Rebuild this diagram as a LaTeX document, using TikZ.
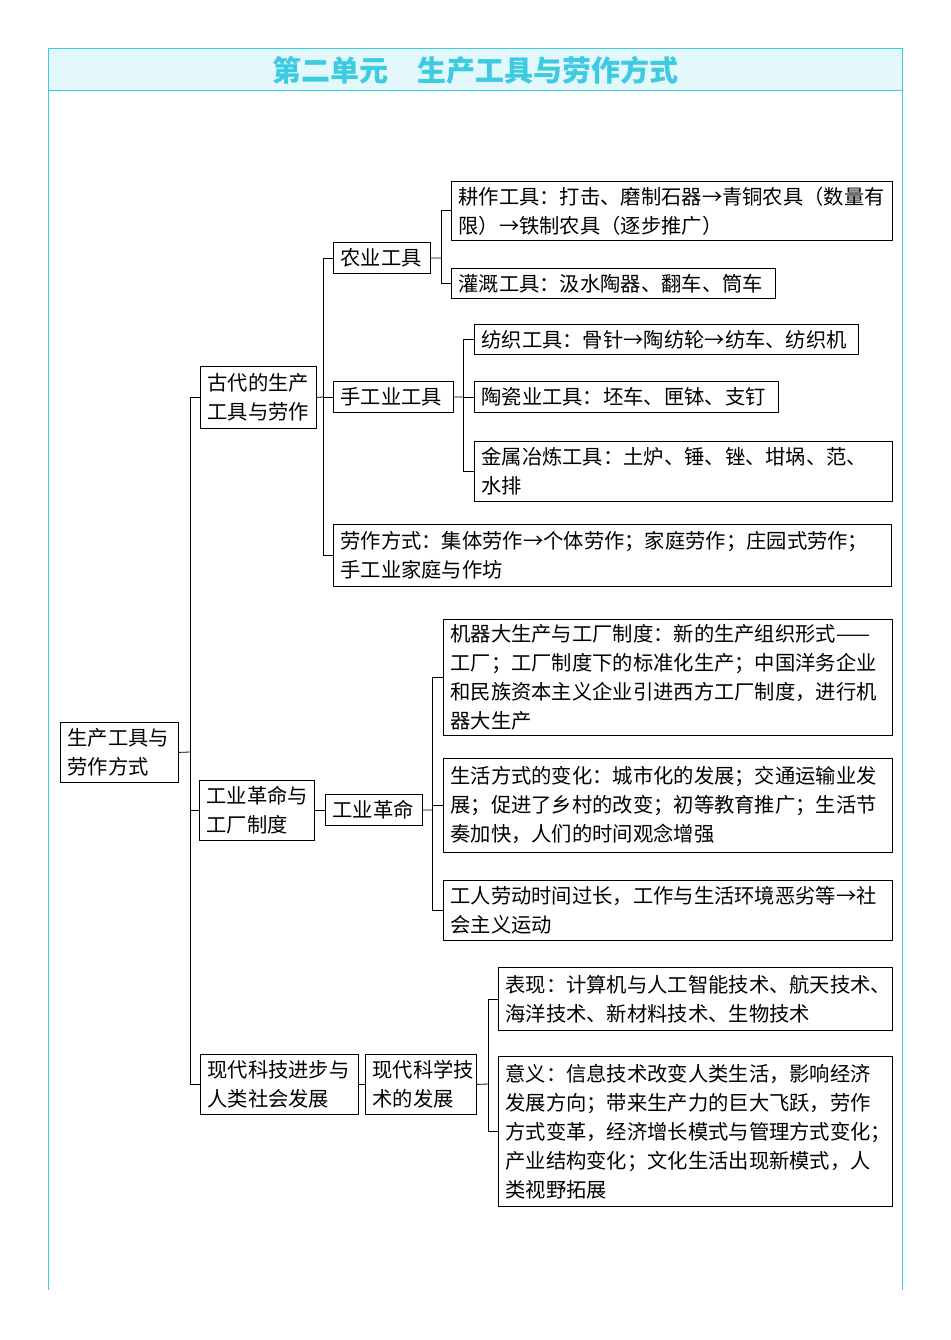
\documentclass[tikz,border=0pt]{standalone}
\usepackage{fontspec}
\newfontfamily\cjk{Noto Sans CJK SC}
\definecolor{tcyan}{HTML}{3CCBE0}
\definecolor{hcyan}{HTML}{E3F8FC}
\begin{document}
\begin{tikzpicture}[x=1pt,y=-1pt,
 bx/.style={draw,line width=0.8pt,anchor=north west,inner xsep=7pt,inner ysep=3pt,align=left,font=\cjk\fontsize{20.3}{29}\selectfont},
 ln/.style={line width=0.8pt}]
\useasboundingbox (0,0) rectangle (950,1340);
\fill[hcyan] (48,48) rectangle (902,90);
\draw[tcyan,line width=0.8pt] (48,48) -- (48,1290) (902,48) -- (902,1290) (48,48) -- (902,48) (48,90) -- (902,90);
\node[font=\cjk\bfseries\fontsize{29}{32}\selectfont,text=tcyan] (title) at (475,70) {第二单元\hspace{1em}生产工具与劳作方式};
\newcommand\bxn[6]{\node[bx,text width=#4-#2-14,minimum height=#5-#3] (#1) at (#2,#3) {#6};}
\bxn{root}{60}{722}{178}{782}{生产工具与\\劳作方式}
\bxn{a1}{200}{366}{316}{428}{古代的生产\\工具与劳作}
\bxn{a2}{199}{780}{314}{840}{工业革命与\\工厂制度}
\bxn{a3}{200}{1054}{358}{1114}{现代科技进步与\\人类社会发展}
\bxn{b1}{333}{242}{430}{273}{农业工具}
\bxn{b2}{333}{381}{453}{412}{手工业工具}
\bxn{b3}{333}{524}{891}{586}{劳作方式：集体劳作→个体劳作；家庭劳作；庄园式劳作；\\手工业家庭与作坊}
\bxn{b4}{325}{794}{422}{825}{工业革命}
\bxn{b5}{365}{1054}{476}{1114}{现代科学技\\术的发展}
\bxn{c1}{451}{181}{892}{240}{耕作工具：打击、磨制石器→青铜农具（数量有\\限）→铁制农具（逐步推广）}
\bxn{c2}{451}{268}{775}{298}{灌溉工具：汲水陶器、翻车、筒车}
\bxn{c3}{474}{324}{858}{354}{纺织工具：骨针→陶纺轮→纺车、纺织机}
\bxn{c4}{474}{381}{778}{412}{陶瓷业工具：坯车、匣钵、支钉}
\bxn{c5}{474}{441}{892}{501}{金属冶炼工具：土炉、锤、锉、坩埚、范、\\水排}
\bxn{c6}{443}{619}{892}{735}{机器大生产与工厂制度：新的生产组织形式——\\工厂；工厂制度下的标准化生产；中国洋务企业\\和民族资本主义企业引进西方工厂制度，进行机\\器大生产}
\bxn{c7}{443}{758}{892}{852}{生活方式的变化：城市化的发展；交通运输业发\\展；促进了乡村的改变；初等教育推广；生活节\\奏加快，人们的时间观念增强}
\bxn{c8}{443}{880}{892}{940}{工人劳动时间过长，工作与生活环境恶劣等→社\\会主义运动}
\bxn{c9}{498}{967}{892}{1030}{表现：计算机与人工智能技术、航天技术、\\海洋技术、新材料技术、生物技术}
\bxn{c10}{498}{1056}{892}{1206}{意义：信息技术改变人类生活，影响经济\\发展方向；带来生产力的巨大飞跃，劳作\\方式变革，经济增长模式与管理方式变化；\\产业结构变化；文化生活出现新模式，人\\类视野拓展}
% brackets
\draw[ln] (root.east) -- (190,752) coordinate (t0);
\draw[ln] (t0 |- a1.west) -- (t0 |- a3.west);
\foreach \n in {a1,a2,a3} \draw[ln] (t0 |- \n.west) -- (\n.west);
\draw[ln] (a1.east) -- (323,397) coordinate (t1);
\draw[ln] (t1 |- b1.west) -- (t1 |- b3.west);
\foreach \n in {b1,b2,b3} \draw[ln] (t1 |- \n.west) -- (\n.west);
\draw[ln] (b1.east) -- (441,258) coordinate (t2);
\draw[ln] (t2 |- c1.west) -- (t2 |- c2.west);
\foreach \n in {c1,c2} \draw[ln] (t2 |- \n.west) -- (\n.west);
\draw[ln] (b2.east) -- (463,397) coordinate (t3);
\draw[ln] (t3 |- c3.west) -- (t3 |- c5.west);
\foreach \n in {c3,c4,c5} \draw[ln] (t3 |- \n.west) -- (\n.west);
\draw[ln] (a2.east) -- (b4.west |- a2.east);
\draw[ln] (b4.east) -- (432,810) coordinate (t4);
\draw[ln] (t4 |- c6.west) -- (t4 |- c8.west);
\foreach \n in {c6,c7,c8} \draw[ln] (t4 |- \n.west) -- (\n.west);
\draw[ln] (a3.east) -- (b5.west);
\draw[ln] (b5.east) -- (488,1084) coordinate (t5);
\draw[ln] (t5 |- c9.west) -- (t5 |- c10.west);
\foreach \n in {c9,c10} \draw[ln] (t5 |- \n.west) -- (\n.west);
\end{tikzpicture}
\end{document}
